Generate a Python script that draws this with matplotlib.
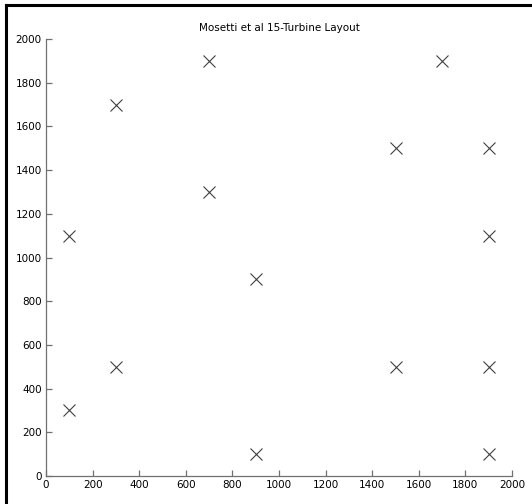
import matplotlib.pyplot as plt
from matplotlib.lines import Line2D

# turbine positions (m)
x_pos = [100, 100, 300, 300, 700, 700, 900, 900, 1500, 1500, 1700, 1900, 1900, 1900, 1900]
y_pos = [300, 1100, 500, 1700, 1300, 1900, 900, 100, 1500, 500, 1900, 1500, 1100, 500, 100]
ticks = [0, 200, 400, 600, 800, 1000, 1200, 1400, 1600, 1800, 2000]

plt.rcParams['font.family'] = 'DejaVu Sans'
plt.rcParams['font.size'] = 7.5

fig = plt.figure(figsize=(5.32, 5.04), dpi=100)
ax = fig.add_axes([46/532, 1 - 476/504, 466/532, 437/504])

ax.plot(x_pos, y_pos, linestyle='none', marker='x', markersize=8.5,
        markeredgewidth=0.8, color='#404040')

ax.set_xlim(0, 2000)
ax.set_ylim(0, 2000)
ax.set_xticks(ticks)
ax.set_yticks(ticks)
ax.set_title('Mosetti et al 15-Turbine Layout', fontsize=7.5, pad=6)

for side in ['top', 'right']:
    ax.spines[side].set_visible(False)
for side in ['left', 'bottom']:
    ax.spines[side].set_color('#707070')
    ax.spines[side].set_linewidth(0.9)
ax.tick_params(direction='in', length=4, width=0.9, color='#707070',
               labelcolor='black', pad=3)

# dark frame along the left and top edges
fig.add_artist(Line2D([6/532, 6/532], [0, 1 - 5/504], transform=fig.transFigure,
                      color='black', linewidth=2.2))
fig.add_artist(Line2D([6/532, 1], [1 - 5/504, 1 - 5/504], transform=fig.transFigure,
                      color='black', linewidth=2.2))

fig.savefig('out.png', dpi=100)
